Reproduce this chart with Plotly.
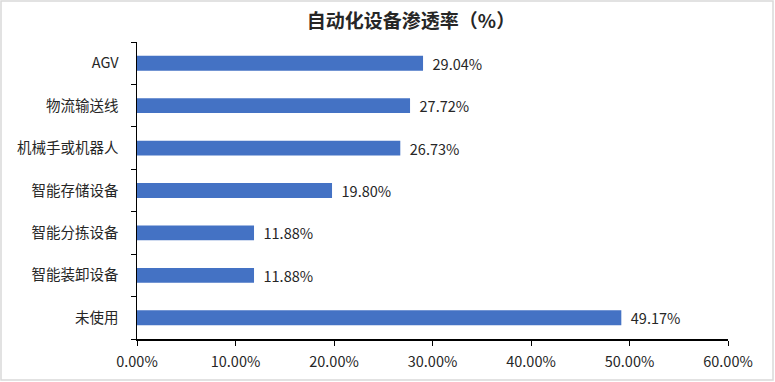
import plotly.graph_objects as go

categories = ["AGV", "物流输送线", "机械手或机器人", "智能存储设备", "智能分拣设备", "智能装卸设备", "未使用"]
values = [0.2904, 0.2772, 0.2673, 0.1980, 0.1188, 0.1188, 0.4917]
title_text = "自动化设备渗透率（%）"
x_ticks = [0, 0.1, 0.2, 0.3, 0.4, 0.5, 0.6]

W, H = 775, 382
L, R, T, B = 137, 47, 42, 43
pw, ph = W - L - R, H - T - B

font_family = "Noto Sans CJK SC, Microsoft YaHei, sans-serif"
txt_color = "#262626"

fig = go.Figure(go.Bar(
    x=values,
    y=categories,
    orientation="h",
    marker=dict(color="#4472C4", line=dict(width=0)),
    width=0.35,
    text=["\u00a0\u00a0" + f"{v*100:.2f}%" for v in values],
    textposition="outside",
    constraintext="none",
    textfont=dict(size=14.5, color=txt_color, family=font_family),
    cliponaxis=False,
    hoverinfo="skip",
))

fig.update_layout(
    width=W, height=H,
    margin=dict(l=L, r=R, t=T, b=B, pad=0, autoexpand=False),
    paper_bgcolor="white",
    plot_bgcolor="white",
    font=dict(family=font_family, size=14.5, color=txt_color),
    title=dict(text=f"<b>{title_text}</b>", x=411 / W, xanchor="center",
               y=1 - 21 / H, yanchor="middle",
               font=dict(size=19, color=txt_color, family=font_family)),
    showlegend=False,
    xaxis=dict(
        range=[0, 0.6],
        tickvals=x_ticks,
        tickformat=".2%",
        showgrid=False,
        zeroline=False,
        showline=True,
        linecolor="#000000",
        linewidth=1.5,
        ticks="outside",
        ticklen=5,
        tickcolor="#000000",
        tickfont=dict(size=14.5, color=txt_color),
        ticklabelstandoff=4,
        automargin=False,
        fixedrange=True,
    ),
    yaxis=dict(
        categoryorder="array",
        categoryarray=categories[::-1],
        showgrid=False,
        zeroline=False,
        showline=True,
        linecolor="#000000",
        linewidth=1.5,
        ticks="outside",
        tickson="boundaries",
        ticklen=5,
        tickcolor="#000000",
        tickfont=dict(size=14.5, color=txt_color),
        ticklabelstandoff=14,
        automargin=False,
        fixedrange=True,
    ),
)

# chart border
fig.add_shape(
    type="rect", xref="paper", yref="paper",
    x0=(1 - L) / pw, x1=(W - 2 - L) / pw,
    y0=(H - B - (H - 2)) / ph, y1=(H - B - 1) / ph,
    line=dict(color="#D9D9D9", width=1.5),
    fillcolor="rgba(0,0,0,0)",
    layer="below",
)

fig.write_html(
    "out.html",
    config={"displayModeBar": False, "staticPlot": True},
    post_script="document.body.style.margin='0';document.body.style.overflow='hidden';",
)
